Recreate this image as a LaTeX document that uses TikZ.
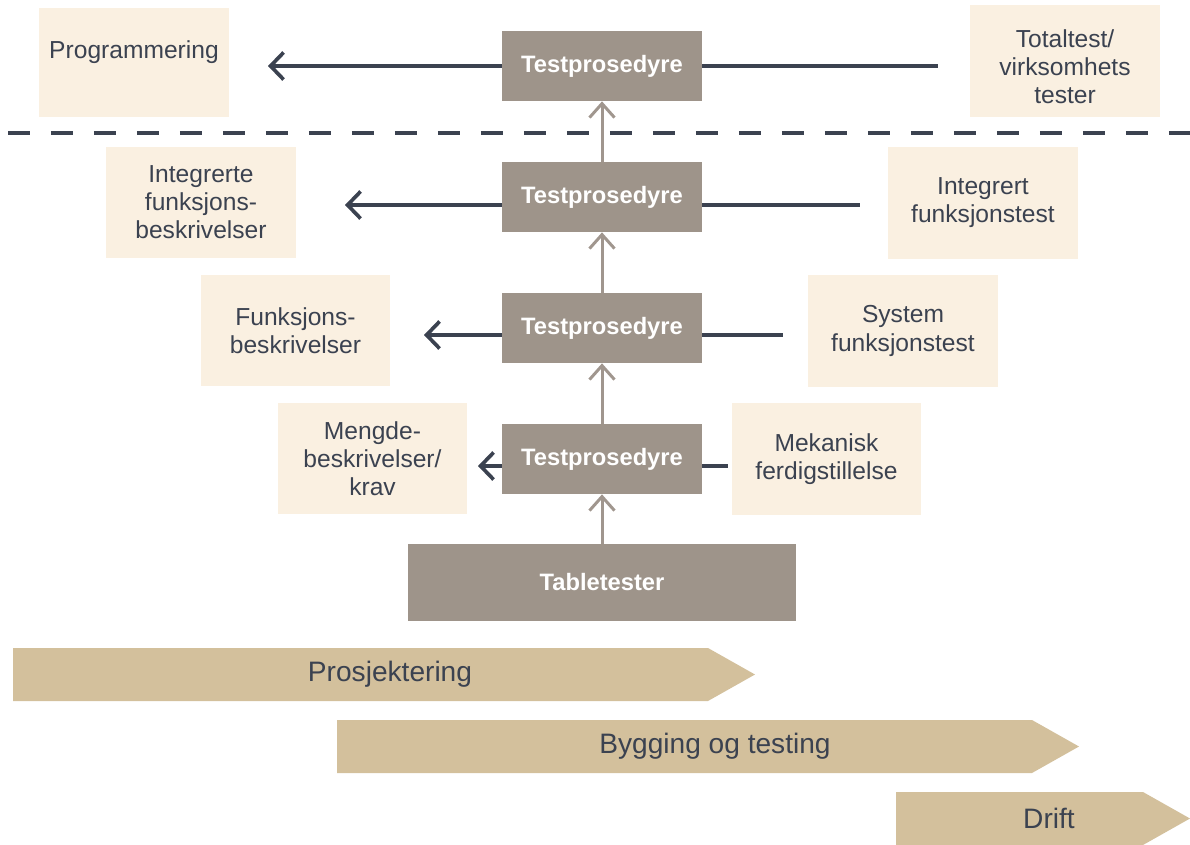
\documentclass[tikz,border=0pt]{standalone}
\usepackage{fontspec}
\setmainfont{Liberation Sans}
\usetikzlibrary{arrows.meta}
\definecolor{krem}{HTML}{FAF0E1}
\definecolor{grabox}{HTML}{9E948A}
\definecolor{beige}{HTML}{D3C09C}
\definecolor{mork}{HTML}{3B4250}
\definecolor{grapil}{HTML}{A0968E}

\begin{document}
\begin{tikzpicture}[x=0.02cm, y=-0.02cm,
    every node/.style={font=\fontsize{14}{16}\selectfont, text=mork, align=center, inner sep=0pt},
    krembox/.style={fill=krem, minimum width=3.8cm, minimum height=2.24cm},
    testbox/.style={fill=grabox, text=white, font=\fontsize{13.5}{16}\selectfont\bfseries,
      minimum width=4cm, minimum height=1.4cm},
    band/.style={font=\fontsize{16}{19}\selectfont},
    venstre/.style={draw=mork, line width=2.1pt, -{Straight Barb[length=0.26cm, width=0.54cm]}},
    linje/.style={draw=mork, line width=2.1pt},
    opp/.style={draw=grapil, line width=1.7pt, -{Straight Barb[length=0.28cm, width=0.5cm]}}]
  \useasboundingbox (0,0) rectangle (1190,845);

  % testprosedyrer
  \foreach \n/\yy in {1/66, 2/197, 3/328, 4/459}
    \node[testbox] (tp\n) at (602,\yy) {Testprosedyre};
  \node[testbox, minimum width=7.76cm, minimum height=1.54cm] (table) at (602,582.5) {Tabletester};

  % venstre side
  \node[krembox, minimum height=2.18cm, label={[yshift=0.2cm]center:Programmering}] (prog) at (134,62.5) {};
  \node[krembox] (intf) at (201,202.5) {Integrerte\\funksjons-\\beskrivelser};
  \node[krembox] (funk) at (295.5,330.5) {Funksjons-\\beskrivelser};
  \node[krembox] (meng) at (372.5,458.5) {Mengde-\\beskrivelser/\\krav};

  % hoyre side
  \node[krembox, label={[yshift=-0.12cm]center:Totaltest/\\virksomhets\\tester}] (total) at (1065,61) {};
  \node[krembox] (intt) at (983,203) {Integrert\\funksjonstest};
  \node[krembox] (sys) at (903,331) {System\\funksjonstest};
  \node[krembox] (mek) at (826.5,459) {Mekanisk\\ferdigstillelse};

  \draw[mork, line width=2.1pt, dash pattern=on 0.44cm off 0.42cm] (8,133) -- (1190,133);

  \foreach \n/\yy/\l/\r in {1/66/268/938, 2/205/345/860, 3/335/424/783, 4/466/478/728}
    {\coordinate (v\n) at (\l,\yy);
     \coordinate (h\n) at (\r,\yy);
     \draw[venstre] (tp\n.west |- v\n) -- (v\n);
     \draw[linje] (tp\n.east |- h\n) -- (h\n);
    }

  \draw[opp] (table) -- (tp4);
  \draw[opp] (tp4) -- (tp3);
  \draw[opp] (tp3) -- (tp2);
  \draw[opp] (tp2) -- (tp1);

  % faser
  \fill[beige] (13,648) -- (708,648) -- (755,674.5) -- (708,701) -- (13,701) -- cycle;
  \fill[beige] (337,720) -- (1032,720) -- (1079,746.5) -- (1032,773) -- (337,773) -- cycle;
  \fill[beige] (896,792) -- (1143,792) -- (1190,818.5) -- (1143,845) -- (896,845) -- cycle;
  \node[band] (prosj) at (390,674.5) {Prosjektering};
  \node[band] (bygg) at (715,746.5) {Bygging og testing};
  \node[band] (drift) at (1049,818.5) {Drift};
\end{tikzpicture}
\end{document}
